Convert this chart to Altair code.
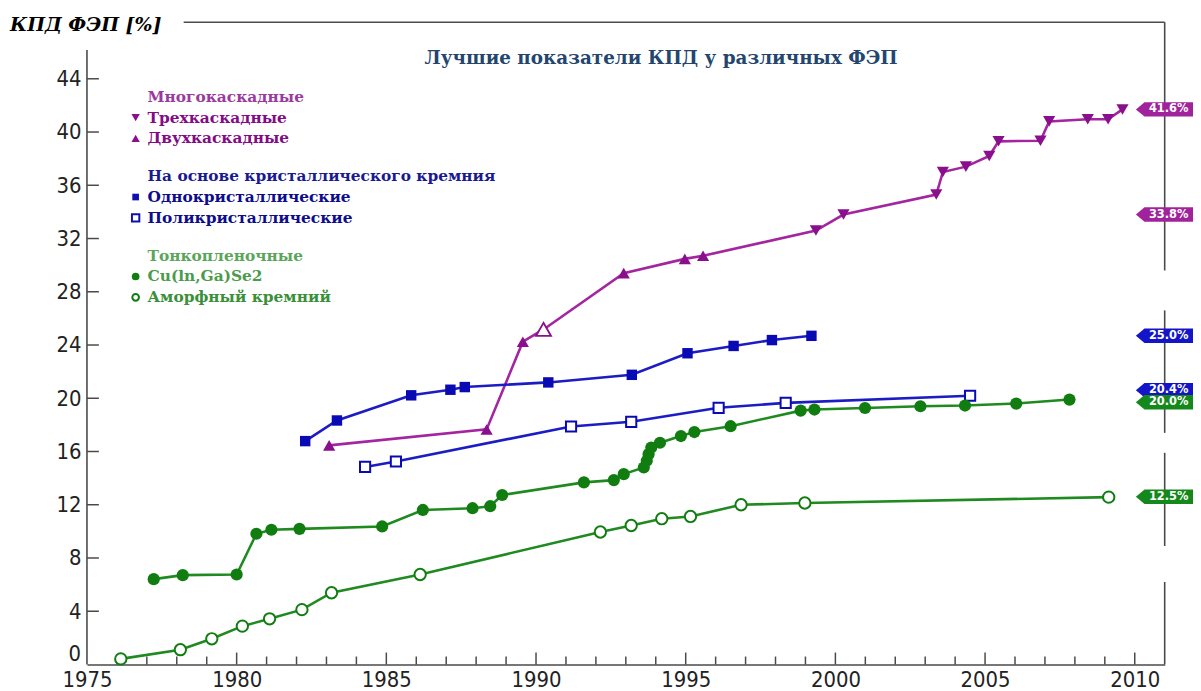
import altair as alt
import pandas as pd

# ---------------- data ----------------
dual_years = [1983.09, 1988.35, 1989.56, 1992.93, 1994.97, 1995.58]
dual_vals = [16.46, 17.66, 24.25, 29.4, 30.47, 30.7]
dual_open_years = [1990.25]
dual_open_vals = [25.17]
triple_years = [1999.35, 2000.27, 2003.37, 2003.59, 2004.36, 2005.14, 2005.45,
                2006.85, 2007.14, 2008.43, 2009.11, 2009.59]
triple_vals = [32.6, 33.8, 35.3, 37.0, 37.4, 38.2, 39.3, 39.35, 40.8, 40.96, 40.96, 41.7]

mono_years = [1982.29, 1983.35, 1985.83, 1987.14, 1987.62, 1990.41, 1993.2,
              1995.06, 1996.6, 1997.88, 1999.2]
mono_vals = [16.78, 18.33, 20.22, 20.64, 20.84, 21.19, 21.76, 23.38, 23.93, 24.37, 24.69]

multi_years = [1984.29, 1985.32, 1991.17, 1993.18, 1996.1, 1998.34, 2004.5]
multi_vals = [14.84, 15.25, 17.88, 18.23, 19.28, 19.65, 20.19]

cigs_years = [1977.23, 1978.2, 1980.0, 1980.66, 1981.16, 1982.1, 1984.86, 1986.22,
              1987.88, 1988.47, 1988.87, 1991.6, 1992.6, 1992.93, 1993.6, 1993.7,
              1993.76, 1993.85, 1994.14, 1994.84, 1995.29, 1996.5, 1998.84, 1999.3,
              2000.99, 2002.84, 2004.33, 2006.04, 2007.82]
cigs_vals = [6.41, 6.71, 6.76, 9.82, 10.12, 10.19, 10.37, 11.61, 11.74, 11.89, 12.73,
             13.68, 13.85, 14.3, 14.8, 15.3, 15.8, 16.3, 16.66, 17.16, 17.46, 17.9,
             19.07, 19.15, 19.27, 19.4, 19.45, 19.6, 19.9]

asi_years = [1976.13, 1978.12, 1979.17, 1980.19, 1981.1, 1982.18, 1983.17, 1986.13,
             1992.15, 1993.18, 1994.2, 1995.16, 1996.85, 1998.98, 2009.13]
asi_vals = [0.42, 1.11, 1.93, 2.88, 3.43, 4.12, 5.39, 6.76, 9.95, 10.44, 10.95,
            11.12, 12.0, 12.13, 12.57]

tag_texts = ["41.6%", "33.8%", "25.0%", "20.4%", "20.0%", "12.5%"]
tag_levels = [41.7, 33.8, 24.7, 20.6, 19.7, 12.6]
tag_groups = ["multi", "multi", "si", "si", "thin", "thin"]

x_tick_labels = [1975, 1980, 1985, 1990, 1995, 2000, 2005, 2010]
y_tick_labels = [0, 4, 8, 12, 16, 20, 24, 28, 32, 36, 40, 44]

legend_groups = [
    ("Многокаскадные", ["Трехкаскадные", "Двухкаскадные"]),
    ("На основе кристаллического кремния", ["Однокристаллические", "Поликристаллические"]),
    ("Тонкопленочные", ["Cu(ln,Ga)Se2", "Аморфный кремний"]),
]

# ---------------- styling ----------------
W, H = 1085, 646.6
X0, X1 = 1975, 2011
Y0, Y1 = 0, 48.25
PURPLE_L, PURPLE_M = "#a3259f", "#8a0f8c"
BLUE_L, BLUE_M = "#1c1cc4", "#0a0ab4"
GREEN_L, GREEN_M = "#1f8a1f", "#117d11"
TAG_COLORS = {"multi": "#a0239c", "si": "#1414c8", "thin": "#14881a"}
FRAME = "#4a4a4a"
SERIF = "DejaVu Serif, Liberation Serif, serif"
NARROW = "Liberation Sans Narrow, DejaVu Sans Condensed, Liberation Sans, sans-serif"

xs = alt.Scale(domain=[X0, X1], nice=False, zero=False)
ys = alt.Scale(domain=[Y0, Y1], nice=False, zero=False)
x_axis = alt.Axis(values=x_tick_labels, format="d", title=None, grid=False, ticks=False,
                  domain=True, domainColor=FRAME, domainWidth=1.6, labelFont=NARROW,
                  labelFontSize=22, labelColor="#222", labelPadding=5, labelFlush=False)
# the lowest y label ("0") is drawn separately, lifted above the x axis as in the reference
y_axis = alt.Axis(values=y_tick_labels[1:], format="d", title=None, grid=False, ticks=False,
                  domain=False, labelFont=NARROW, labelFontSize=22, labelColor="#222",
                  labelPadding=6, labelFlush=False)


def X(field):
    return alt.X(field, type="quantitative", scale=xs, axis=x_axis)


def Y(field):
    return alt.Y(field, type="quantitative", scale=ys, axis=y_axis)


layers = []

# ---------- frame and ticks ----------
frame_df = pd.DataFrame({
    "x1": [X0, 1978.23, X1, X1, X1, X1],
    "x2": [X0, X1, X1, X1, X1, X1],
    "y1": [0, Y1, 29.6, 17.4, 8.9, 0],
    "y2": [46.16, Y1, Y1, 26.6, 15.9, 6.2],
})
layers.append(alt.Chart(frame_df).mark_rule(color=FRAME, strokeWidth=1.6).encode(
    x=X("x1"), x2="x2", y=Y("y1"), y2="y2"))

minor_years = pd.DataFrame({"yr": [v for v in range(1976, 2011) if v % 5]})
major_years = pd.DataFrame({"yr": [v for v in range(1980, 2011, 5)]})
layers.append(alt.Chart(minor_years).mark_rule(color=FRAME, strokeWidth=1.5).encode(
    x=X("yr"), y=alt.value(H), y2=alt.value(H - 8)))
layers.append(alt.Chart(major_years).mark_rule(color=FRAME, strokeWidth=1.5).encode(
    x=X("yr"), y=alt.value(H), y2=alt.value(H - 12)))
ytick_df = pd.DataFrame({"v": y_tick_labels[1:]})
layers.append(alt.Chart(ytick_df).mark_rule(color=FRAME, strokeWidth=1.5).encode(
    y=Y("v"), x=alt.value(0), x2=alt.value(12)))
zero_df = pd.DataFrame({"v": y_tick_labels[:1], "t": [str(y_tick_labels[0])]})
layers.append(alt.Chart(zero_df).mark_text(font=NARROW, fontSize=22, color="#222",
                                           align="right", baseline="bottom", dy=1).encode(
    x=alt.value(-6), y=Y("v"), text="t"))

# ---------- lines ----------
purple_pts = sorted(zip(dual_years + dual_open_years + triple_years,
                        dual_vals + dual_open_vals + triple_vals))
line_df = pd.concat([
    pd.DataFrame({"year": [p[0] for p in purple_pts], "value": [p[1] for p in purple_pts], "s": "multi"}),
    pd.DataFrame({"year": mono_years, "value": mono_vals, "s": "mono"}),
    pd.DataFrame({"year": multi_years, "value": multi_vals, "s": "poly"}),
    pd.DataFrame({"year": cigs_years, "value": cigs_vals, "s": "cigs"}),
    pd.DataFrame({"year": asi_years, "value": asi_vals, "s": "asi"}),
])
line_col = {"multi": PURPLE_L, "mono": BLUE_L, "poly": BLUE_L, "cigs": GREEN_L, "asi": GREEN_L}
line_df["col"] = line_df["s"].map(line_col)
layers.append(alt.Chart(line_df).mark_line(strokeWidth=2.6).encode(
    x=X("year"), y=Y("value"), detail="s:N",
    color=alt.Color("col:N", scale=None, legend=None)))


def pts(years, vals, shape, size, color, open_=False, sw=2.0):
    df = pd.DataFrame({"year": years, "value": vals})
    if open_:
        ch = alt.Chart(df).mark_point(shape=shape, size=size, filled=False, fill="white",
                                      fillOpacity=1, stroke=color, strokeWidth=sw, opacity=1)
    else:
        ch = alt.Chart(df).mark_point(shape=shape, size=size, filled=True, color=color,
                                      opacity=1)
    return ch.encode(x=X("year"), y=Y("value"))


layers.append(pts(dual_years, dual_vals, "triangle-up", 150, PURPLE_M))
layers.append(pts(dual_open_years, dual_open_vals, "triangle-up", 230, PURPLE_M, open_=True, sw=1.8))
layers.append(pts(triple_years, triple_vals, "triangle-down", 150, PURPLE_M))
layers.append(pts(mono_years, mono_vals, "square", 110, BLUE_M))
layers.append(pts(multi_years, multi_vals, "square", 105, BLUE_M, open_=True))
layers.append(pts(cigs_years, cigs_vals, "circle", 150, GREEN_M))
layers.append(pts(asi_years, asi_vals, "circle", 130, GREEN_M, open_=True))

# ---------- right-hand tags ----------
tag_df = pd.DataFrame({"t": tag_texts, "v": tag_levels,
                       "col": [TAG_COLORS[g] for g in tag_groups]})
tag_path = "M-1,0L-0.7,-0.25L1,-0.25L1,0.25L-0.7,0.25Z"
layers.append(alt.Chart(tag_df).mark_point(shape=tag_path, size=3364, filled=True,
                                           opacity=1, strokeWidth=0).encode(
    x=alt.value(W), y=Y("v"), color=alt.Color("col:N", scale=None, legend=None)))
layers.append(alt.Chart(tag_df).mark_text(font="DejaVu Sans", fontSize=11.5, fontWeight="bold",
                                          color="white", align="center", baseline="middle").encode(
    x=alt.value(W + 4), y=Y("v"), text="t"))

# ---------- headings ----------
one = pd.DataFrame({"a": [0]})
layers.append(alt.Chart(one).mark_text(text="КПД ФЭП [%]", font=SERIF, fontSize=19,
                                       fontWeight="bold", fontStyle="italic", color="#000",
                                       align="left", baseline="middle").encode(
    x=alt.value(-77.5), y=alt.value(3)))
layers.append(alt.Chart(one).mark_text(text="Лучшие показатели КПД у различных ФЭП", font=SERIF,
                                       fontSize=18.5, fontWeight="bold", color="#23456e",
                                       align="center", baseline="middle").encode(
    x=alt.value(578), y=alt.value(36)))

# ---------- custom legend ----------
header_colors = ["#9a3a9e", "#1a1a90", "#5aa55a"]
item_colors = [["#820b86", "#820b86"], ["#0c0c8c", "#0c0c8c"], ["#4a9c4a", "#3a8f3a"]]
item_markers = [
    [("triangle-down", PURPLE_M, False, 70), ("triangle-up", PURPLE_M, False, 70)],
    [("square", "#1010b0", False, 45), ("square", "#1010b0", True, 55)],
    [("circle", GREEN_M, False, 60), ("circle", GREEN_M, True, 45)],
]
leg_rows = []
for gi, (head, items) in enumerate(legend_groups):
    base = 75 + 80 * gi
    leg_rows.append({"t": head, "c": header_colors[gi], "y": base})
    for k, it in enumerate(items):
        leg_rows.append({"t": it, "c": item_colors[gi][k], "y": base + 21 * (k + 1)})
        shape, col, is_open, sz = item_markers[gi][k]
        if is_open:
            mk = alt.Chart(one).mark_point(shape=shape, size=sz, filled=False, fill="white",
                                           fillOpacity=1, stroke=col, strokeWidth=2, opacity=1)
        else:
            mk = alt.Chart(one).mark_point(shape=shape, size=sz, filled=True, color=col, opacity=1)
        layers.append(mk.encode(x=alt.value(49), y=alt.value(base + 21 * (k + 1))))
leg_df = pd.DataFrame(leg_rows)
layers.append(alt.Chart(leg_df).mark_text(
    font=SERIF, fontSize=15.5, fontWeight="bold", align="left", baseline="middle").encode(
    x=alt.value(61), y=alt.Y("y:Q", scale=None, axis=None), text="t",
    color=alt.Color("c:N", scale=None, legend=None)))

chart = alt.layer(*layers).properties(
    width=W, height=H,
    autosize=alt.AutoSizeParams(type="none"),
    padding={"left": 79.5, "top": 12, "right": 28.5, "bottom": 26},
    background="white",
).configure_view(stroke=None)

chart.save("out.html", embed_options={"renderer": "svg", "actions": False})
